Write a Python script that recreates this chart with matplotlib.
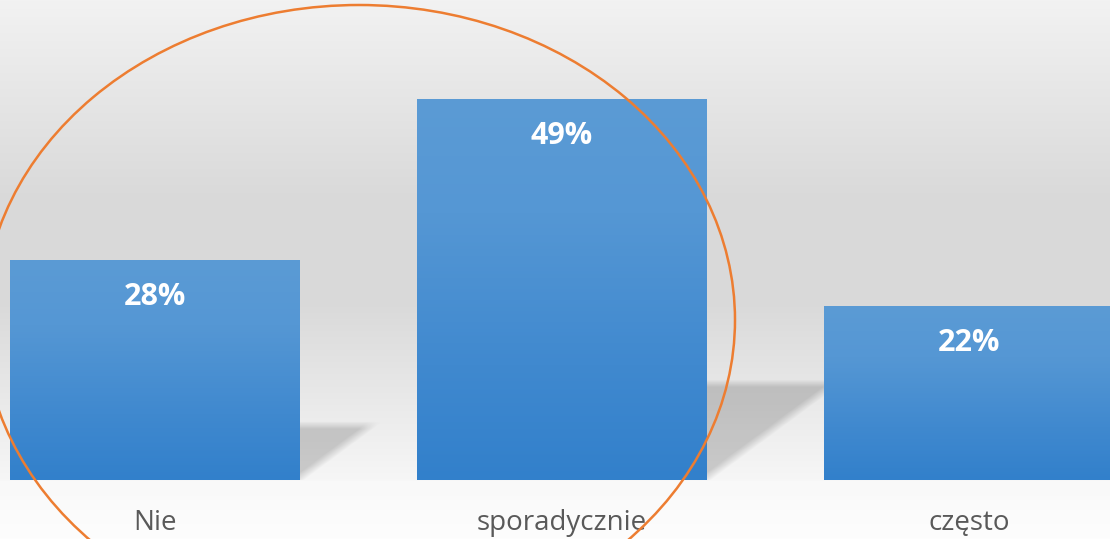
import numpy as np
import matplotlib
matplotlib.use("Agg")
import matplotlib.pyplot as plt
from matplotlib.patches import Ellipse
from matplotlib.colors import LinearSegmentedColormap

# dane
categories = ["Nie", "sporadycznie", "często"]
values = [28.3, 49, 22.4]
labels = ["28%", "49%", "22%"]

plt.rcParams['font.family'] = ['Open Sans', 'DejaVu Sans']

W, H = 1110, 539
fig = plt.figure(figsize=(W / 100, H / 100), dpi=100)

# tlo - gradient szary
bg = fig.add_axes([0, 0, 1, 1], zorder=0)
bg.set_axis_off()
rows = np.arange(H)
stops_y = [0, 200, 300, 380, 479, 481, 538]
stops_c = [242, 217, 217, 230, 246, 249, 253]
col = np.interp(rows, stops_y, stops_c) / 255.0
img = np.repeat(col[:, None], 4, axis=1)
bg.imshow(np.dstack([img, img, img]), aspect='auto', extent=[0, 1, 0, 1])
bg.set_xlim(0, 1)
bg.set_ylim(0, 1)

ax = fig.add_axes([0, 0, 1, 1], zorder=1)
ax.patch.set_alpha(0)
ax.set_axis_off()

x = np.arange(len(categories))
bar_w = 0.7125
ppx = 407.0      # piksele na jednostke x
ppy = 7.776      # piksele na jednostke y
xlim = (-155 / ppx, (W - 155) / ppx)
ylim = (-(H - 480) / ppy, 480 / ppy)

# cienie za slupkami
for xi, v in zip(x, values):
    xr = xi + bar_w / 2
    sh = 0.26 * v
    sh_px = sh * ppy
    w_px = 1.35 * sh_px
    nx, ny = int(w_px) + 12, int(sh_px) + 6
    u = np.arange(nx)[None, :] + 0.5
    vv = (ny - np.arange(ny)[:, None]) - 0.5
    d1 = (vv * w_px / sh_px - u) / np.hypot(1, w_px / sh_px)
    d2 = sh_px - vv
    a = np.clip(d1 / 9 + 0.3, 0, 1) * np.clip(d2 / 8 + 0.2, 0, 1) * 0.18
    rgba = np.zeros((ny, nx, 4))
    rgba[..., 3] = a
    ax.imshow(rgba, extent=[xr, xr + nx / ppx, 0, ny / ppy], aspect='auto',
              zorder=1, interpolation='bilinear')

# slupki z gradientem
cmap = LinearSegmentedColormap.from_list(
    "b", [(0, "#3280cb"), (0.3, "#4089cf"), (0.7, "#5597d4"), (1, "#5b9bd5")])
bars = ax.bar(x, values, width=bar_w, color="none", zorder=2)
for b in bars:
    grad = np.linspace(0, 1, 256)[:, None]
    im = ax.imshow(grad, cmap=cmap, origin='lower', aspect='auto',
                   extent=[b.get_x(), b.get_x() + b.get_width(), 0, b.get_height()],
                   zorder=2)
    im.set_clip_path(b)

for xi, v, lab, cat in zip(x, values, labels, categories):
    ax.text(xi, v - 37 / ppy, lab, ha='center', va='center', color='white',
            fontsize=22, fontweight='bold', zorder=4)
    ax.text(xi, -43 / ppy, cat, ha='center', va='center',
            color='#595959', fontsize=20, zorder=4)

ax.add_patch(Ellipse(((359 - 155) / ppx, (480 - 320) / ppy), 752 / ppx, 630 / ppy,
                     fill=False, edgecolor='#ed7d31', lw=1.8, zorder=5))

ax.set_xlim(*xlim)
ax.set_ylim(*ylim)
ax.set_aspect('auto')

fig.savefig("out.png", dpi=100)
